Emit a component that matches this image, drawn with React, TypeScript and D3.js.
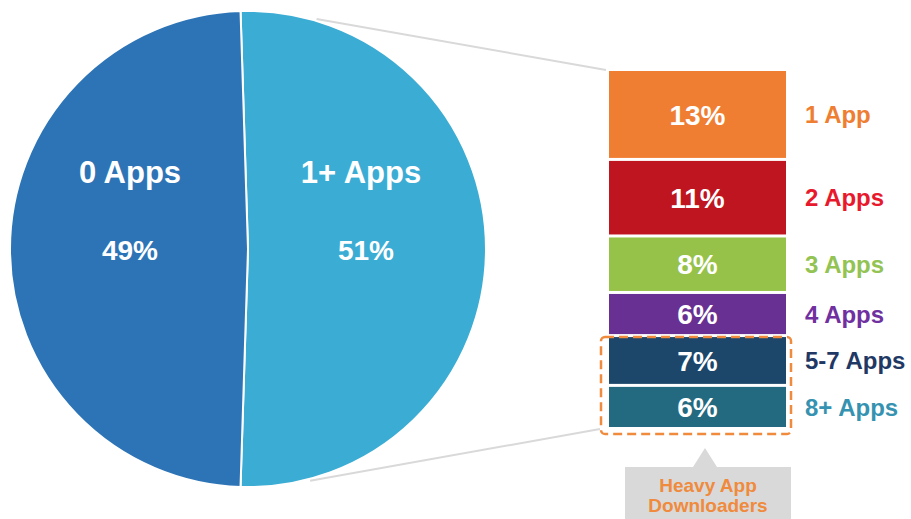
import React from 'react';
import { useRef, useEffect } from 'react';
import * as d3 from 'd3';

// pie: share of users by apps downloaded
const pieLabels = ['1+ Apps', '0 Apps'];
const pieValues = [51, 49];
const pieColors = ['#3BACD4', '#2D74B6'];

// breakdown of the 1+ slice
const barLabels = ['1 App', '2 Apps', '3 Apps', '4 Apps', '5-7 Apps', '8+ Apps'];
const barValues = [13, 11, 8, 6, 7, 6];
const barColors = ['#F07E32', '#BE1520', '#96C24A', '#673092', '#1C466A', '#236A80'];
const labelColors = ['#EE7E32', '#E8192C', '#92C353', '#7030A0', '#1F3864', '#3592B0'];
const heavyGroup = ['5-7 Apps', '8+ Apps'];
const calloutLines = ['Heavy App', 'Downloaders'];

const FONT = '"Liberation Sans", Arial, sans-serif';

export default function App() {
  const svgRef = useRef<SVGSVGElement>(null);

  useEffect(() => {
    const w = 911;
    const h = 519;
    const svg = d3.select(svgRef.current);
    svg.selectAll('*').remove();
    svg.attr('width', w).attr('height', h);

    //pie
    const cx = 248;
    const cy = 249;
    const r = 238;
    const total = d3.sum(pieValues);
    const first = pieValues[0] / total;
    const start = Math.PI / 2 - first * Math.PI; // 1+ slice centred on the right
    const pie = d3
      .pie<number>()
      .sort(null)
      .startAngle(start)
      .endAngle(start + 2 * Math.PI);
    const arcs = pie(pieValues);
    const arc: any = d3.arc().innerRadius(0).outerRadius(r);

    const g = svg.append('g').attr('transform', `translate(${cx},${cy})`);

    // stacked breakdown geometry
    const barX = 609;
    const barW = 177;
    const barTop = 71;
    const gap = 3;
    const y = d3
      .scaleLinear()
      .domain([0, d3.sum(barValues)])
      .range([0, 341]);
    const stack: { y0: number; y1: number }[] = [];
    let acc = barTop;
    barValues.forEach((v) => {
      stack.push({ y0: acc, y1: acc + y(v) });
      acc += y(v) + gap;
    });
    const barBottom = stack[stack.length - 1].y1;

    // connector lines (drawn first, behind pie)
    const pTop = d3.pointRadial((16.6 * Math.PI) / 180, r + 2);
    const pBot = d3.pointRadial((165 * Math.PI) / 180, r + 2);
    svg
      .append('line')
      .attr('x1', cx + pTop[0])
      .attr('y1', cy + pTop[1])
      .attr('x2', barX - 3)
      .attr('y2', barTop - 1)
      .attr('stroke', '#D9D9D9')
      .attr('stroke-width', 2);
    svg
      .append('line')
      .attr('x1', cx + pBot[0])
      .attr('y1', cy + pBot[1])
      .attr('x2', barX - 9)
      .attr('y2', barBottom + 2)
      .attr('stroke', '#D9D9D9')
      .attr('stroke-width', 2);

    g.selectAll('path')
      .data(arcs)
      .join('path')
      .attr('d', arc)
      .attr('fill', (d, i) => pieColors[i])
      .attr('stroke', '#ffffff')
      .attr('stroke-width', 2);

    // pie labels
    const labelX = [cx + 113, cx - 118];
    pieLabels.forEach((lab, i) => {
      svg
        .append('text')
        .attr('x', labelX[i])
        .attr('y', 183)
        .attr('text-anchor', 'middle')
        .style('font-family', FONT)
        .style('font-weight', 'bold')
        .style('font-size', '31px')
        .style('fill', '#ffffff')
        .text(lab);
      svg
        .append('text')
        .attr('x', labelX[i] + (i === 0 ? 5 : 0))
        .attr('y', 260)
        .attr('text-anchor', 'middle')
        .style('font-family', FONT)
        .style('font-weight', 'bold')
        .style('font-size', '28px')
        .style('fill', '#ffffff')
        .text(pieValues[i] + '%');
    });

    //bars
    const bars = svg.append('g');
    bars
      .selectAll('rect')
      .data(barValues)
      .join('rect')
      .attr('x', barX)
      .attr('y', (d, i) => stack[i].y0)
      .attr('width', barW)
      .attr('height', (d, i) => stack[i].y1 - stack[i].y0)
      .attr('fill', (d, i) => barColors[i]);

    bars
      .selectAll('text.pct')
      .data(barValues)
      .join('text')
      .attr('class', 'pct')
      .attr('x', barX + barW / 2)
      .attr('y', (d, i) => (stack[i].y0 + stack[i].y1) / 2)
      .attr('dy', '0.36em')
      .attr('text-anchor', 'middle')
      .style('font-family', FONT)
      .style('font-weight', 'bold')
      .style('font-size', '28px')
      .style('fill', '#ffffff')
      .text((d) => d + '%');

    bars
      .selectAll('text.lab')
      .data(barLabels)
      .join('text')
      .attr('class', 'lab')
      .attr('x', 805)
      .attr('y', (d, i) => (stack[i].y0 + stack[i].y1) / 2)
      .attr('dy', '0.36em')
      .style('font-family', FONT)
      .style('font-weight', 'bold')
      .style('font-size', '24px')
      .style('fill', (d, i) => labelColors[i])
      .text((d) => d);

    // dashed box round heavy downloaders
    const hi = heavyGroup.map((lab) => barLabels.indexOf(lab));
    const boxTop = stack[hi[0]].y0;
    const boxBot = stack[hi[hi.length - 1]].y1 + 7;
    svg
      .append('rect')
      .attr('x', barX - 8)
      .attr('y', boxTop)
      .attr('width', barW + 13)
      .attr('height', boxBot - boxTop)
      .attr('rx', 4)
      .attr('fill', 'none')
      .attr('stroke', '#F08A3C')
      .attr('stroke-width', 2.5)
      .attr('stroke-dasharray', '9,5');

    // callout
    const cxo = 705;
    const calloutTop = 467;
    svg
      .append('path')
      .attr(
        'd',
        `M625,${calloutTop} L693,${calloutTop} L${cxo},448 L717,${calloutTop} L791,${calloutTop} L791,${h} L625,${h} Z`
      )
      .attr('fill', '#D9D9D9');
    svg
      .selectAll('text.callout')
      .data(calloutLines)
      .join('text')
      .attr('class', 'callout')
      .attr('x', 708)
      .attr('y', (d, i) => 492 + i * 20)
      .attr('text-anchor', 'middle')
      .style('font-family', FONT)
      .style('font-weight', 'bold')
      .style('font-size', '19px')
      .style('fill', '#F08A3C')
      .text((d) => d);
  }, []);

  return (
    <svg
      ref={svgRef}
      style={{ position: 'absolute', left: 0, top: 0, display: 'block', background: '#ffffff' }}
    ></svg>
  );
}
